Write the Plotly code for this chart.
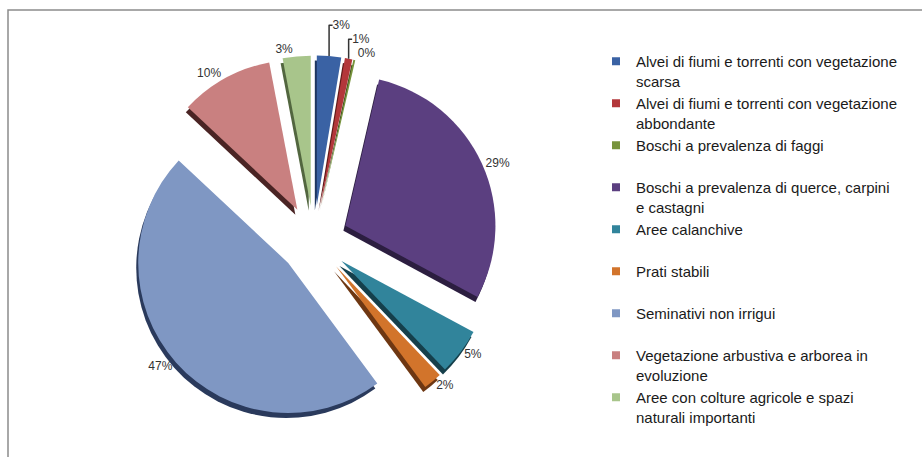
import plotly.graph_objects as go

# Land-use classes (legend order = slice order, clockwise from 12 o'clock)
categories = [
    "Alvei di fiumi e torrenti con vegetazione<br>scarsa",
    "Alvei di fiumi e torrenti con vegetazione<br>abbondante",
    "Boschi a prevalenza di faggi",
    "Boschi a prevalenza di querce, carpini<br>e castagni",
    "Aree calanchive",
    "Prati stabili",
    "Seminativi non irrigui",
    "Vegetazione arbustiva e arborea in<br>evoluzione",
    "Aree con colture agricole e spazi<br>naturali importanti",
]
# Share of the area (%)
shares = [2.6, 0.8, 0.2, 29.2, 5.0, 2.0, 47.0, 10.0, 3.0]

face_colors = ["#3A62A4", "#B3373A", "#77933C", "#5B3F80", "#31849B",
               "#D2742B", "#7F97C3", "#C98080", "#A8C58B"]
side_colors = ["#1E3560", "#5E1A18", "#3E4F1E", "#2C1E40", "#153F4B",
               "#6E3712", "#2A3A5C", "#4A2424", "#52663F"]
explode = 0.23

W, H = 922, 457
cx, cy, R = 314, 240, 150
half = R * (1 + explode)
dom_x = [(cx - half) / W, (cx + half) / W]
dom_y = [(H - cy - half) / H, (H - cy + half) / H]
dx, dy = 2 / W, 5 / H  # depth of the side walls

fig = go.Figure()

# side walls: the same pie, shifted a few pixels down/left, in darker tones
fig.add_trace(go.Pie(
    labels=categories, values=shares, sort=False, direction="clockwise",
    rotation=0, pull=[explode] * len(shares),
    marker=dict(colors=side_colors, line=dict(width=0)),
    textinfo="none", hoverinfo="skip", showlegend=False,
    domain=dict(x=[dom_x[0] - dx, dom_x[1] - dx], y=[dom_y[0] - dy, dom_y[1] - dy]),
))

# top faces with percentage labels
fig.add_trace(go.Pie(
    labels=categories, values=shares, sort=False, direction="clockwise",
    rotation=0, pull=[explode] * len(shares),
    marker=dict(colors=face_colors, line=dict(width=0)),
    texttemplate="%{percent:.0%}", textposition="outside",
    outsidetextfont=dict(family="Liberation Sans, Arial, sans-serif", size=12, color="#333333"),
    showlegend=False, domain=dict(x=dom_x, y=dom_y),
))

# legend entries (square keys)
for name, col in zip(categories, face_colors):
    label = name if "<br>" in name else name + "<br> "
    fig.add_trace(go.Scatter(
        x=[None], y=[None], mode="markers", name=label,
        marker=dict(symbol="square", size=8, color=col),
    ))

fig.update_layout(
    width=W, height=H,
    margin=dict(l=0, r=0, t=0, b=0, autoexpand=False),
    paper_bgcolor="white", plot_bgcolor="white",
    xaxis=dict(visible=False), yaxis=dict(visible=False),
    legend=dict(
        x=596 / W, y=1 - 45 / H, xanchor="left", yanchor="top",
        font=dict(family="Liberation Sans, Arial, sans-serif", size=15, color="#1A1A1A"),
        valign="top", itemclick=False, bgcolor="rgba(0,0,0,0)",
    ),
    shapes=[dict(type="rect", xref="paper", yref="paper",
                 x0=8 / W, x1=1.02, y0=-0.02, y1=1 - 10 / H,
                 line=dict(color="#8C8C8C", width=1.5))],
)

fig.write_html("out.html")
